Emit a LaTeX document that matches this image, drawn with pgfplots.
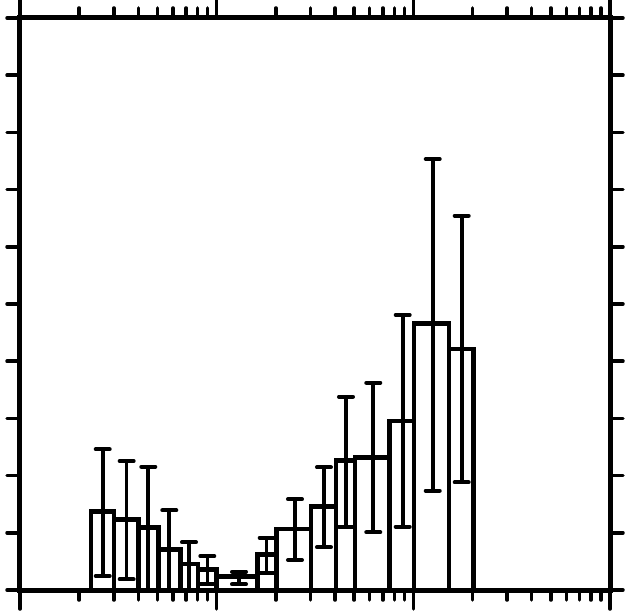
\documentclass[border=0pt]{standalone}
\usepackage{pgfplots}
\pgfplotsset{compat=1.18}
\usetikzlibrary{calc}
\begin{document}
\begin{tikzpicture}
\begin{axis}[
  scale only axis, width=590pt, height=572pt,
  xmode=log, xmin=1, xmax=1000, ymin=0, ymax=10,
  log basis x=10,
  xtick={1,10,100,1000}, xticklabels={},
  minor xtick={2,3,4,5,6,7,8,9,20,30,40,50,60,70,80,90,200,300,400,500,600,700,800,900},
  ytick=\empty,
  extra y ticks={0,1,2,3,4,5,6,7,8,9,10},
  extra y tick labels={},
  extra y tick style={major tick length=13pt, tick style={line width=3.5pt, line cap=round, black}},
  yticklabels={},
  tick align=outside,
  tick pos=both,
  major tick length=19pt, minor tick length=10pt,
  every tick/.append style={black, line width=3.5pt, line cap=round},
  axis line style={line width=5pt},
  clip=true,
]
\addplot[black, line width=4.5pt, line join=miter, mark=none] coordinates {
(2.3,0)(2.3,1.369)(3.0,1.369)(3.0,0)(3.0,1.236)(4.0,1.236)(4.0,0)(4.0,1.096)(5.05,1.096)(5.05,0)(5.05,0.712)(6.55,0.712)(6.55,0)(6.55,0.455)(8.05,0.455)(8.05,0)(8.05,0.362)(10,0.362)(10,0)(10,0.233)(16.1,0.233)(16.1,0)(16.1,0.621)(20.15,0.621)(20.15,0)(20.15,1.066)(30.1,1.066)(30.1,0)(30.1,1.456)(40.4,1.456)(40.4,0)(40.4,2.260)(50.5,2.260)(50.5,0)(50.5,2.320)(75.5,2.320)(75.5,0)(75.5,2.955)(100.8,2.955)(100.8,0)(100.8,4.663)(152,4.663)(152,0)(152,4.213)(202,4.213)(202,0)
};
\addplot[draw=none, mark=none, forget plot,
  error bars/.cd, y dir=both, y explicit,
  error bar style={draw=black, line width=3.6pt},
  error mark options={draw=black, rotate=90, mark size=7pt, line width=4pt, line cap=round}]
  table[x=x, y=y, y error plus=ep, y error minus=em] {
x y ep em
2.634 1.369 1.091 1.124
3.487 1.236 1.019 1.049
4.491 1.096 1.060 1.096
5.743 0.712 0.681 0.712
7.234 0.455 0.379 0.455
8.962 0.362 0.232 0.262
12.99 0.233 0.087 0.133
17.96 0.621 0.293 0.319
25.02 1.066 0.520 0.542
35.13 1.456 0.689 0.709
45.45 2.260 1.119 1.153
62.56 2.320 1.304 1.311
88.30 2.955 1.853 1.848
125.5 4.663 2.872 2.927
176.2 4.213 2.331 2.330
};
\end{axis}
\foreach \f in {0,0.33333,0.66667,1} {
  \draw[black, line width=3.5pt, line cap=round]
    ($(current axis.north west)!\f!(current axis.north east)$) -- ++(0,18pt);
  \draw[black, line width=3.5pt, line cap=round]
    ($(current axis.south west)!\f!(current axis.south east)$) -- ++(0,-18pt);
}
\pgfresetboundingbox
\path ($(current axis.south west)+(-20pt,-20pt)$) rectangle ($(current axis.north east)+(23pt,18pt)$);
\end{tikzpicture}
\end{document}
